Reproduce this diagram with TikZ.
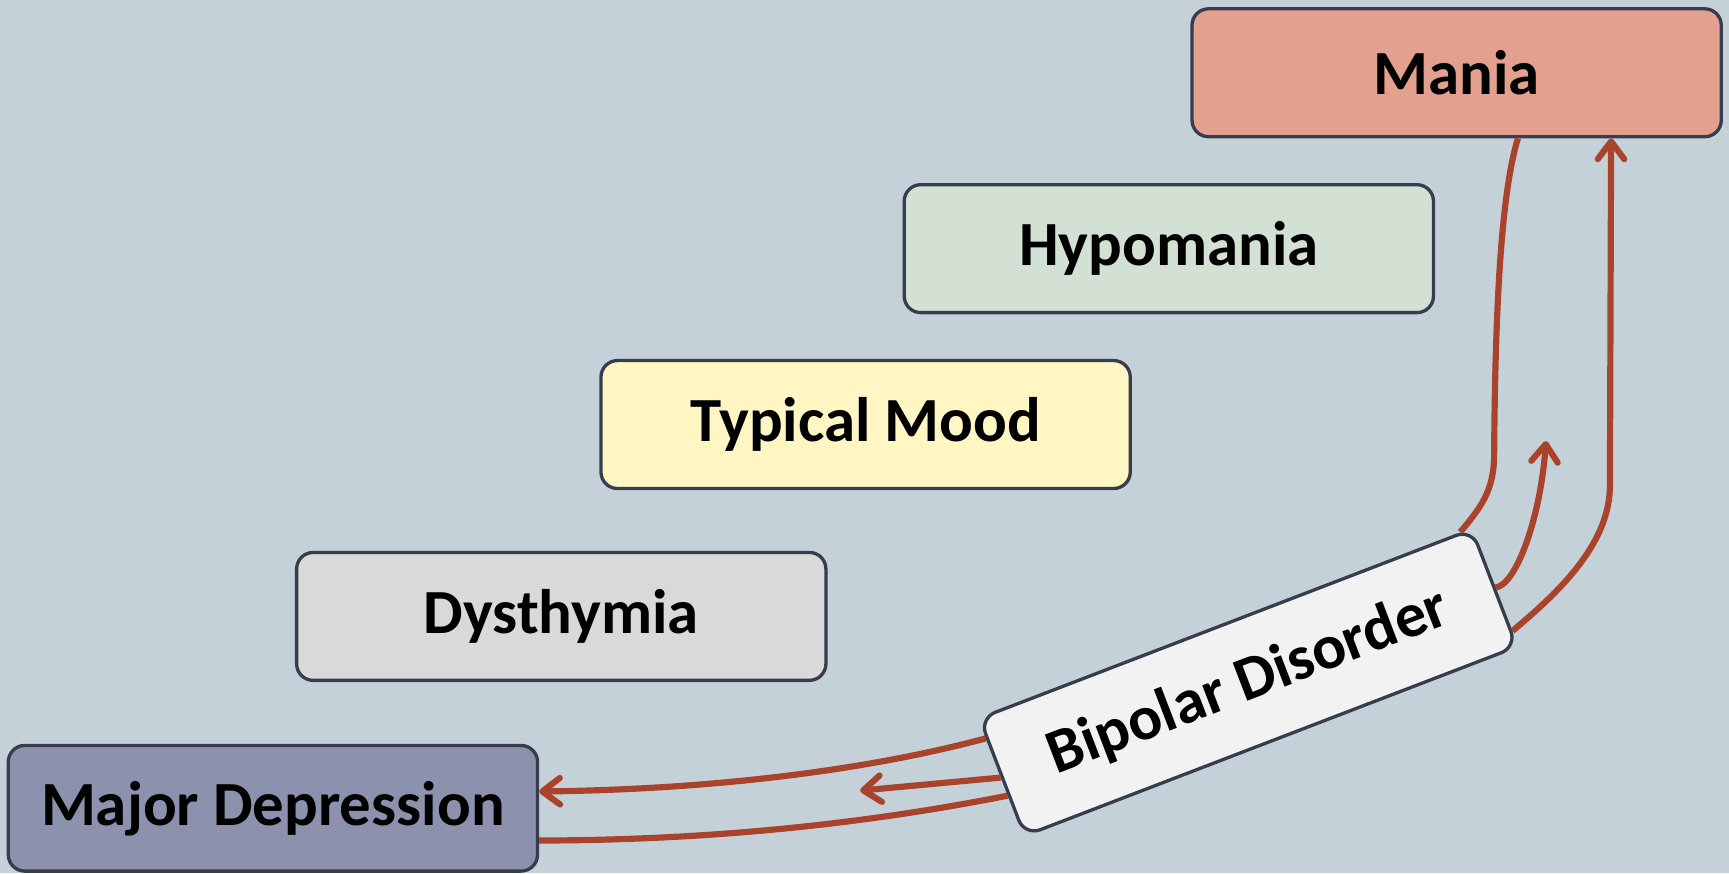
\documentclass[tikz,border=0pt]{standalone}
\usepackage{fontspec}
\setmainfont{Carlito}
\usetikzlibrary{arrows.meta,calc}
\definecolor{bg}{HTML}{C5D1D8}
\definecolor{border}{HTML}{373D4C}
\definecolor{conncol}{HTML}{A9432B}
\definecolor{maniafill}{HTML}{E3A08F}
\definecolor{hypofill}{HTML}{D3E0D4}
\definecolor{moodfill}{HTML}{FFF6C3}
\definecolor{dysfill}{HTML}{D9D9D9}
\definecolor{mdfill}{HTML}{8C92AD}
\definecolor{bpfill}{HTML}{F2F2F2}
\begin{document}
\begin{tikzpicture}[x=0.5pt,y=-0.5pt,
  box/.style={draw=border, line width=1.5pt, rounded corners=7.5pt,
    minimum width=240pt, minimum height=58pt, inner sep=0pt,
    font=\fontsize{28.5}{34}\selectfont\bfseries, text=black},
  conn/.style={draw=conncol, line width=2.8pt},
  arr/.style={conn, -{Straight Barb[length=8pt,width=12pt,line cap=round,line join=round]}}]
\path[use as bounding box, fill=bg] (0,0) rectangle (1568,792);

\node[box, fill=maniafill] (mania) at (1321,66) {Mania};
\node[box, fill=hypofill] (hypo) at (1060,225.5) {Hypomania};
\node[box, fill=moodfill] (mood) at (785,385) {Typical Mood};
\node[box, fill=dysfill] (dys) at (509,559) {Dysthymia};
\node[box, fill=mdfill, minimum height=57pt] (md) at (247.5,733) {Major Depression};
\node[box, fill=bpfill, rotate=21, minimum width=239pt, minimum height=57pt] (bp) at (1132,619) {Bipolar Disorder};

\coordinate (m1) at (1402,400);
\coordinate (d1) at (780,717);

\draw[conn] ($(bp.north east)!0.05!(bp.north)$) .. controls (1343,460) and (1355,445) .. (1355,412)
  .. controls (1356,260) and (1363,170) .. ($(mania.south)!0.23!(mania.south east)$);
\draw[arr] ($(bp.east)!0.72!(bp.south east)$) .. controls (1420,532) and (1460,490) .. (1460,440)
  -- ($(mania.south)!0.58!(mania.south east)$);
\draw[arr] (bp.east) .. controls (1375,530) and (1397,470) .. (m1);

\draw[arr] ($(bp.west)!0.65!(bp.north west)$) .. controls (780,700) and (640,716) .. ($(md.east)!0.26!(md.north east)$);
\draw[arr] (bp.west) -- (d1);
\draw[conn] ($(bp.west)!0.3!(bp.south west)$) .. controls (780,748) and (640,762) .. ($(md.east)!0.5!(md.south east)$);
\end{tikzpicture}
\end{document}
